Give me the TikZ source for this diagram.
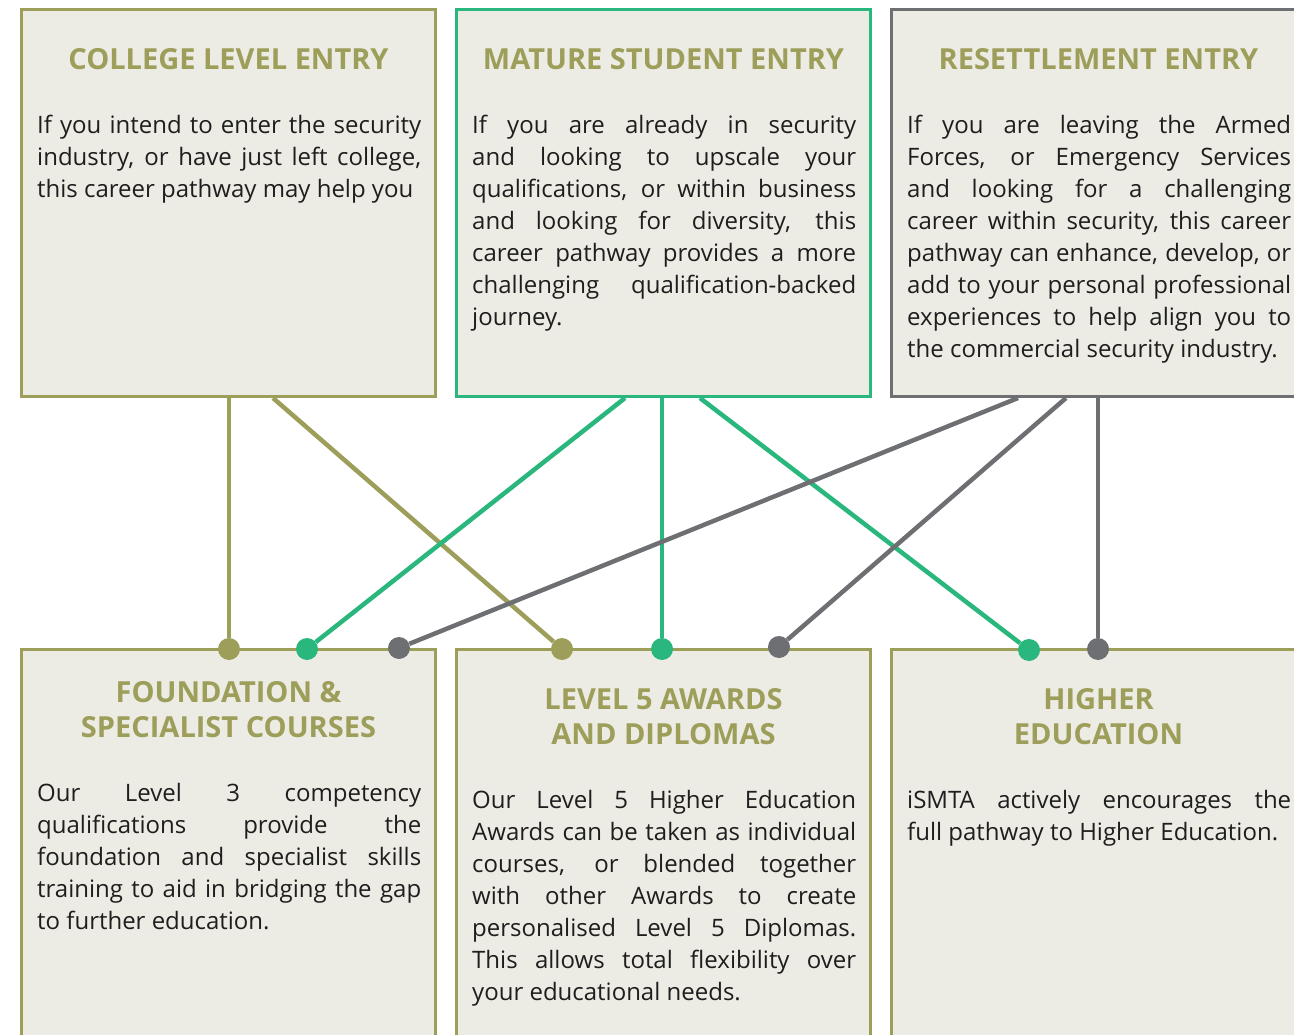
\documentclass[tikz,border=0pt]{standalone}
\usepackage{fontspec}
\setmainfont{Open Sans}
\usetikzlibrary{positioning,calc}
\pgfdeclarelayer{bg}
\pgfsetlayers{bg,main}
\definecolor{olivec}{RGB}{156,158,90}
\definecolor{greenc}{RGB}{41,183,125}
\definecolor{grayc}{RGB}{110,111,114}
\definecolor{boxfill}{RGB}{237,236,228}
\definecolor{inkc}{RGB}{30,30,30}
\hyphenpenalty=10000

\begin{document}
\begin{tikzpicture}[x = 1pt, y = -1pt,
  box/.style = {draw = #1, line width = 3pt, fill = boxfill, anchor = north west,
    minimum width = 414pt, minimum height = 387pt, inner sep = 0pt},
  headline/.style = {font = \fontsize{29}{35}\selectfont\bfseries, text = olivec,
    align = center, inner sep = 0pt},
  blurb/.style = {font = \fontsize{24}{32}\selectfont, text = inkc, text width = 384pt,
    align = justify, anchor = north west, inner sep = 0pt},
  link/.style = {draw = #1, line width = 4.5pt},
  dot/.style = {circle, fill = #1, minimum size = 22pt, inner sep = 0pt}]
\useasboundingbox (0,0) rectangle (1294,1035);

% entry routes
\node[box = olivec] (college) at (20,8) {};
\node[box = greenc] (mature) at (455,8) {};
\node[box = grayc] (resettle) at (890,8) {};

% destinations
\node[box = olivec, minimum height = 400pt] (found) at (20,648) {};
\node[box = olivec, minimum height = 400pt] (level) at (455,648) {};
\node[box = olivec, minimum height = 400pt] (higher) at (890,648) {};

\node[headline] (college-t) at ($(college.north)+(0,51)$) {COLLEGE LEVEL ENTRY};
\node[headline] (mature-t) at ($(mature.north)+(0,51)$) {MATURE STUDENT ENTRY};
\node[headline] (resettle-t) at ($(resettle.north)+(0,51)$) {RESETTLEMENT ENTRY};
\node[headline] (found-t) at ($(found.north)+(0,62)$) {FOUNDATION \&\\SPECIALIST COURSES};
\node[headline] (level-t) at ($(level.north)+(0,69)$) {LEVEL 5 AWARDS\\AND DIPLOMAS};
\node[headline] (higher-t) at ($(higher.north)+(0,69)$) {HIGHER\\EDUCATION};

\node[blurb] (college-b) at ($(college.north west)+(17,107)$) {If you intend to enter the security\linebreak
  industry, or have just left college,\linebreak this career pathway may help you};
\node[blurb] (mature-b) at ($(mature.north west)+(17,107)$) {If you are already in security\linebreak
  and looking to upscale your\linebreak qualifications, or within business\linebreak
  and looking for diversity, this\linebreak career pathway provides a more\linebreak
  challenging qualification-backed\linebreak journey.};
\node[blurb] (resettle-b) at ($(resettle.north west)+(17,107)$) {If you are leaving the Armed\linebreak
  Forces, or Emergency Services\linebreak and looking for a challenging\linebreak
  career within security, this career\linebreak pathway can enhance, develop, or\linebreak
  add to your personal professional\linebreak experiences to help align you to\linebreak
  the commercial security industry.};
\node[blurb] (found-b) at ($(found.north west)+(17,135)$) {Our Level 3 competency\linebreak
  qualifications provide the\linebreak foundation and specialist skills\linebreak
  training to aid in bridging the gap\linebreak to further education.};
\node[blurb] (level-b) at ($(level.north west)+(17,142)$) {Our Level 5 Higher Education\linebreak
  Awards can be taken as individual\linebreak courses, or blended together\linebreak
  with other Awards to create\linebreak personalised Level 5 Diplomas.\linebreak
  This allows total flexibility over\linebreak your educational needs.};
\node[blurb] (higher-b) at ($(higher.north west)+(17,142)$) {iSMTA actively encourages the\linebreak
  full pathway to Higher Education.};

% dots on the destinations
\node[dot = olivec] (found-col) at (229,649) {};
\node[dot = greenc] (found-mat) at (307,649) {};
\node[dot = grayc] (found-res) at (399,648) {};
\node[dot = olivec] (level-col) at (562,649) {};
\node[dot = greenc] (level-mat) at (662,649) {};
\node[dot = grayc] (level-res) at (779,647) {};
\node[dot = greenc] (higher-mat) at (1029,650) {};
\node[dot = grayc] (higher-res) at (1098,649) {};

% where the links leave the entry boxes
\coordinate (col-b) at (273,398);
\coordinate (mat-a) at (625,398);
\coordinate (mat-c) at (700,398);
\coordinate (res-a) at (1018,398);
\coordinate (res-b) at (1066,398);

\begin{pgfonlayer}{bg}
\draw[link = olivec] (college.south -| found-col) -- (found-col);
\draw[link = olivec] (col-b) -- (level-col);
\draw[link = greenc] (mat-a) -- (found-mat);
\draw[link = greenc] (mature.south -| level-mat) -- (level-mat);
\draw[link = greenc] (mat-c) -- (higher-mat);
\draw[link = grayc] (res-a) -- (found-res);
\draw[link = grayc] (res-b) -- (level-res);
\draw[link = grayc] (resettle.south -| higher-res) -- (higher-res);
\end{pgfonlayer}
\end{tikzpicture}
\end{document}
